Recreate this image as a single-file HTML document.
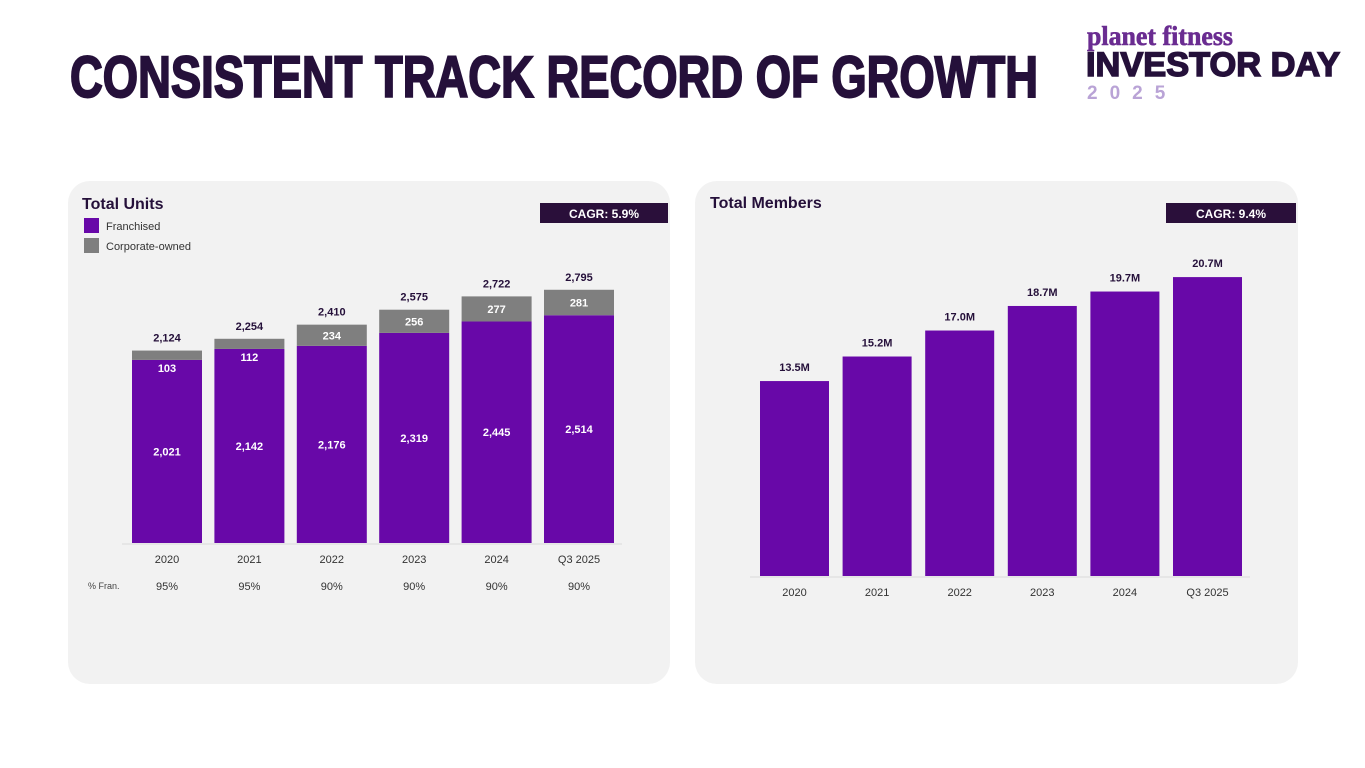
<!DOCTYPE html>
<html><head><meta charset="utf-8">
<style>
body{margin:0;width:1365px;height:768px;background:#fff;overflow:hidden;font-family:"Liberation Sans",sans-serif;}
svg{position:absolute;left:0;top:0}
</style></head>
<body>
<svg width="1365" height="768">
  <text x="70" y="97" font-family="Liberation Sans Narrow, Liberation Sans, sans-serif" font-weight="bold" font-size="58" fill="#25103a" stroke="#25103a" stroke-width="2" textLength="968" lengthAdjust="spacingAndGlyphs">CONSISTENT TRACK RECORD OF GROWTH</text>
  <g>
    <text x="1087" y="45" font-family="Liberation Serif, serif" font-weight="bold" font-size="27" fill="#6a2c91" stroke="#6a2c91" stroke-width="0.6" textLength="146" lengthAdjust="spacingAndGlyphs">planet fitness</text>
    <text x="1086" y="76" font-weight="bold" font-size="34" fill="#25103a" stroke="#25103a" stroke-width="1.5" textLength="254" lengthAdjust="spacingAndGlyphs">INVESTOR DAY</text>
    <text x="1087" y="99" font-weight="bold" font-size="19" fill="#b9a3d6" letter-spacing="12">2025</text>
  </g>
  <rect x="68" y="181" width="602" height="503" rx="22" fill="#f2f2f2"/>
  <rect x="695" y="181" width="603" height="503" rx="22" fill="#f2f2f2"/>
  <text x="82" y="209" font-weight="bold" font-size="16" fill="#25103a">Total Units</text>
  <text x="710" y="208" font-weight="bold" font-size="16" fill="#25103a">Total Members</text>
  <rect x="84" y="218" width="15" height="15" fill="#6808a8"/>
  <text x="106" y="230" font-size="11" fill="#333">Franchised</text>
  <rect x="84" y="238" width="15" height="15" fill="#7f7f7f"/>
  <text x="106" y="250" font-size="11" fill="#333">Corporate-owned</text>
  <rect x="540" y="203" width="128" height="20" fill="#2a0f3a"/>
  <text x="604" y="218" text-anchor="middle" font-weight="bold" font-size="12" fill="#fff">CAGR: 5.9%</text>
  <rect x="1166" y="203" width="130" height="20" fill="#2a0f3a"/>
  <text x="1231" y="218" text-anchor="middle" font-weight="bold" font-size="12" fill="#fff">CAGR: 9.4%</text>
  <line x1="122" y1="544" x2="622" y2="544" stroke="#d9d9d9"/>
  <line x1="750" y1="577" x2="1250" y2="577" stroke="#d9d9d9"/>
  <text x="88" y="589" font-size="9" fill="#444">% Fran.</text>
  <g id="units"></g>
  <g id="members"></g>
</svg>
<script>
const years = ["2020","2021","2022","2023","2024","Q3 2025"];
const franchised = [2021,2142,2176,2319,2445,2514];
const corporate = [103,112,234,256,277,281];
const pctFran = ["95%","95%","90%","90%","90%","90%"];
const members = [13.5,15.2,17.0,18.7,19.7,20.7];
const NS="http://www.w3.org/2000/svg";
function mk(tag,attrs,parent,txt){const e=document.createElementNS(NS,tag);for(const k in attrs)e.setAttribute(k,attrs[k]);if(txt!==undefined)e.textContent=txt;parent.appendChild(e);return e;}
const uy=v=>543-v*0.0906, ux=i=>132+i*82.4;
const my=v=>576-v*14.44, mx=i=>760+i*82.6;
const gu=document.getElementById('units'), gm=document.getElementById('members');
years.forEach((y,i)=>{
  const x=ux(i), w=70, f=franchised[i], c=corporate[i];
  const fb=mk('rect',{x:x,y:uy(f),width:w,height:543-uy(f),fill:'#6808a8'},gu);
  
  
  const cb=mk('rect',{x:x,y:uy(f+c),width:w,height:uy(f)-uy(f+c),fill:'#7f7f7f'},gu);
  
  
  const t1=mk('text',{x:x+w/2,y:(uy(f)+543)/2+4,'text-anchor':'middle','font-size':11,'font-weight':'bold',fill:'#fff'},gu,f.toLocaleString('en-US'));
  
  
  const segH=uy(f)-uy(f+c);
  const cy=segH<15?uy(f)+12:(uy(f)+uy(f+c))/2+4;
  const t2=mk('text',{x:x+w/2,y:cy,'text-anchor':'middle','font-size':11,'font-weight':'bold',fill:'#fff'},gu,String(c));
  
  
  const t3=mk('text',{x:x+w/2,y:uy(f+c)-9,'text-anchor':'middle','font-size':11,'font-weight':'bold',fill:'#25103a'},gu,(f+c).toLocaleString('en-US'));
  
  
  const t4=mk('text',{x:x+w/2,y:563,'text-anchor':'middle','font-size':11,fill:'#333'},gu,y);
  
  
  const t5=mk('text',{x:x+w/2,y:590,'text-anchor':'middle','font-size':11,fill:'#333'},gu,pctFran[i]);
  
  
  const mxv=mx(i), m=members[i];
  const mb=mk('rect',{x:mxv,y:my(m),width:69,height:576-my(m),fill:'#6808a8'},gm);
  
  
  const t6=mk('text',{x:mxv+34.5,y:my(m)-10,'text-anchor':'middle','font-size':11,'font-weight':'bold',fill:'#25103a'},gm,m.toFixed(1)+'M');
  
  
  const t7=mk('text',{x:mxv+34.5,y:596,'text-anchor':'middle','font-size':11,fill:'#333'},gm,y);
  
  
});
</script>
</body></html>
